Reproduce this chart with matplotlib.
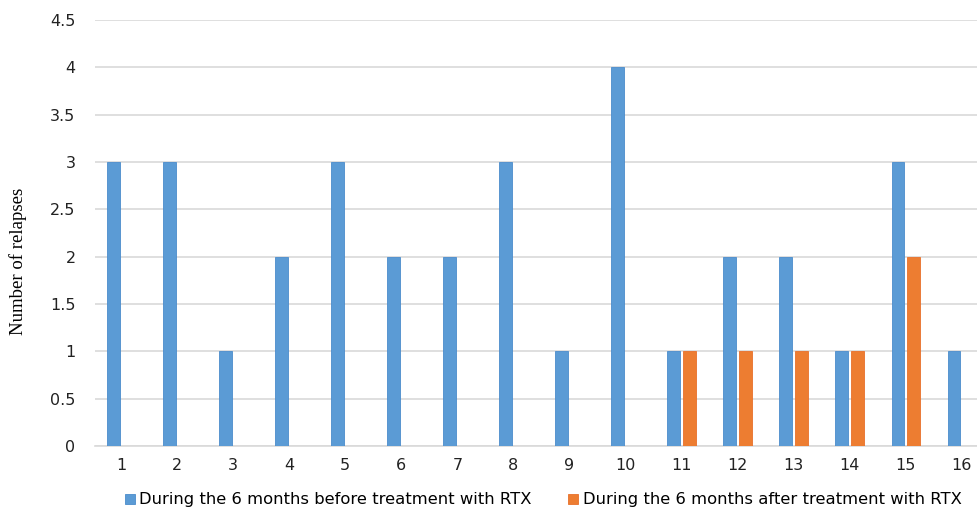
import numpy as np
import matplotlib.pyplot as plt

# ---------------------------
# DATA
# ---------------------------
patients = [str(i) for i in range(1, 17)]
before_rtx = [3, 3, 1, 2, 3, 2, 2, 3, 1, 4, 1, 2, 2, 1, 3, 1]
after_rtx = [0, 0, 0, 0, 0, 0, 0, 0, 0, 0, 1, 1, 1, 1, 2, 0]
y_ticks = [0, 0.5, 1, 1.5, 2, 2.5, 3, 3.5, 4, 4.5]

label_before = "During the 6 months before treatment with RTX"
label_after = "During the 6 months after treatment with RTX"

# ---------------------------
# PLOT
# ---------------------------
fig = plt.figure(figsize=(9.77, 5.13), dpi=100)
ax = fig.add_axes([95 / 977, 67 / 513, 882 / 977, 426 / 513])

x = np.arange(len(patients))
w = 0.23
ax.bar(x - 0.14, before_rtx, width=w, color='#5B9BD5', edgecolor='#4a8ccc',
       linewidth=0.6, label=label_before, zorder=3)
ax.bar(x + 0.14, after_rtx, width=w, color='#ED7D31', edgecolor='#e8702a',
       linewidth=0.6, label=label_after, zorder=3)

ax.set_xlim(-0.464, 15.27)
ax.set_ylim(0, 4.5)
ax.set_yticks(y_ticks)
ax.set_yticklabels([f"{t:g}" for t in y_ticks])
ax.set_xticks(x)
ax.set_xticklabels(patients)

ax.grid(axis='y', color='#d9d9d9', linewidth=1.2, zorder=0)
for s in ['top', 'right', 'left']:
    ax.spines[s].set_visible(False)
ax.spines['bottom'].set_color('#d9d9d9')
ax.spines['bottom'].set_linewidth(1.2)
ax.tick_params(axis='both', length=0, labelsize=11.5, colors='#222222')
ax.tick_params(axis='y', pad=14)
ax.tick_params(axis='x', pad=9)

fig.text(0.018, 0.49, "Number of relapses", rotation=90, va='center', ha='center',
         family='Liberation Serif', fontsize=13.5)

fig.legend(loc='lower center', bbox_to_anchor=(0.556, -0.018), ncol=2, frameon=False,
           fontsize=11.8, handlelength=0.6, handleheight=0.6, handletextpad=0.3,
           columnspacing=2.2)

fig.savefig("out.png", dpi=100)
